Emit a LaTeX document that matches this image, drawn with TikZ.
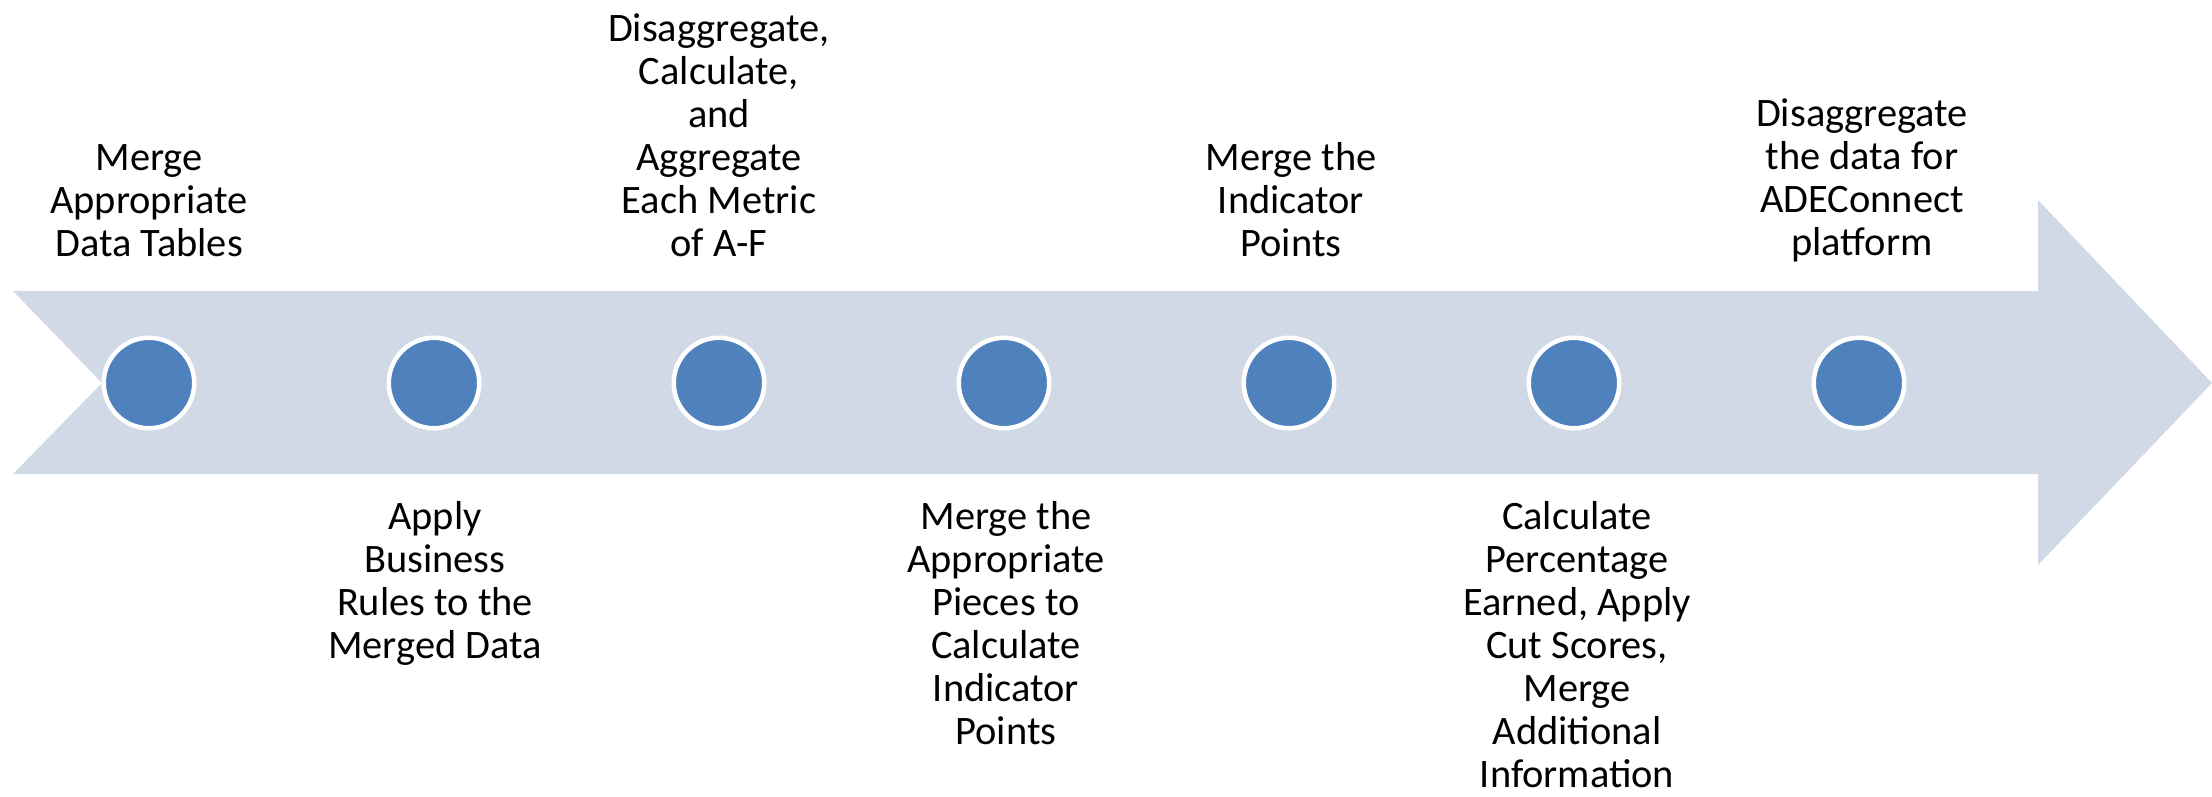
\documentclass[tikz,border=0pt]{standalone}
\usepackage{fontspec}
\setmainfont{Carlito}
\usetikzlibrary{positioning}
\definecolor{arrowfill}{RGB}{209,217,231}
\definecolor{dotblue}{RGB}{79,129,189}
\tikzset{
	dot/.style={circle, fill=dotblue, draw=white, line width=0.09cm, minimum size=1.81cm, inner sep=0pt},
	uptext/.style={anchor=south, align=center, inner sep=0pt, font=\fontsize{23}{24.5}\selectfont},
	downtext/.style={anchor=north, align=center, inner sep=0pt, font=\fontsize{23}{24.5}\selectfont}
}

\begin{document}
\begin{tikzpicture}[x=0.02cm, y=-0.02cm]
		%%%%% START %%%%%
		\useasboundingbox (0, 0) rectangle (2212, 796);
		
		% the big arrow
		\fill[arrowfill] (13, 291) -- (2038, 291) -- (2038, 200) -- (2212, 383)
			-- (2038, 565) -- (2038, 474) -- (13, 474) -- (102, 383) -- cycle;
		
		% the seven stages
		\node[dot] (c1) at (149, 383) {};
		\node[dot] (c2) at (434, 383) {};
		\node[dot] (c3) at (719, 383) {};
		\node[dot] (c4) at (1004, 383) {};
		\node[dot] (c5) at (1289, 383) {};
		\node[dot] (c6) at (1574, 383) {};
		\node[dot] (c7) at (1859, 383) {};
		
		% labels above
		\node[uptext] (t1) at (149, 257) {Merge\\Appropriate\\Data Tables};
		\node[uptext] (t3) at (719, 257) {Disaggregate,\\Calculate,\\and\\Aggregate\\Each Metric\\of A-F};
		\node[uptext] (t5) at (1291, 257) {Merge the\\Indicator\\Points};
		\node[uptext] (t7) at (1862, 262) {Disaggregate\\the data for\\ADEConnect\\platform};
		
		% labels below
		\node[downtext] (t2) at (435, 501) {Apply\\Business\\Rules to the\\Merged Data};
		\node[downtext] (t4) at (1006, 501) {Merge the\\Appropriate\\Pieces to\\Calculate\\Indicator\\Points};
		\node[downtext] (t6) at (1577, 501) {Calculate\\Percentage\\Earned, Apply\\Cut Scores,\\Merge\\Additional\\Information};
		%%%%% END %%%%%
	\end{tikzpicture}
\end{document}
